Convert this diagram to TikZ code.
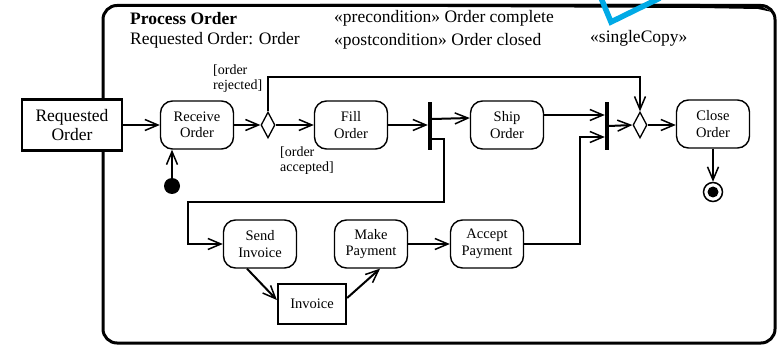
\documentclass[tikz,border=0pt]{standalone}
\usepackage{fontspec}
\setmainfont{Liberation Serif}
\usetikzlibrary{arrows.meta,shapes.geometric}
\tikzset{
  act/.style={draw, line width=1.4pt, rounded corners=12pt, minimum width=73pt,
    minimum height=48pt, align=center, inner sep=1pt, fill=white,
    font=\fontsize{14.5}{16.5}\selectfont},
  objbox/.style={draw, line width=2.2pt, fill=white, align=center, inner sep=1pt},
  bar/.style={fill=black, draw=none, minimum width=4pt, minimum height=48pt, inner sep=0pt},
  choice/.style={draw, diamond, line width=1.3pt, minimum width=14pt, minimum height=26pt,
    inner sep=0pt, fill=white},
  flow/.style={line width=2pt, -{Straight Barb[length=13pt,width=11pt,line width=1.5pt]}},
  edge/.style={line width=2pt},
  guard/.style={align=left, anchor=west, inner sep=0pt, font=\fontsize{14}{15}\selectfont},
  heading/.style={anchor=west, inner sep=0pt, font=\fontsize{17.5}{20}\selectfont}
}
\begin{document}
\begin{tikzpicture}[x=1pt, y=-1pt]
\useasboundingbox (0,0) rectangle (778,347);

% activity frame
\draw[line width=3pt, rounded corners=14pt] (103,5.5) rectangle (775,343);
\fill (320,4) -- (700,4) -- (760,5.5) -- (772,12) -- (758,9) -- (700,8) -- (320,6.5) -- cycle;

% highlight mark at the top edge
\draw[line width=5.5pt, color={rgb,255:red,0;green,170;blue,230}, line join=miter]
  (601,-2) -- (611,22) -- (660,-2);

% headings
\node[heading, font=\fontsize{17.5}{20}\selectfont\bfseries] (title) at (130,19) {Process Order};
\node[heading] (param) at (130,40) {Requested Order: Order};
\node[heading] (pre) at (334,18) {«precondition» Order complete};
\node[heading] (post) at (334,41) {«postcondition» Order closed};
\node[heading] (single) at (590,38) {«singleCopy»};

% parameter node on the frame
\node[objbox, minimum width=100pt, minimum height=51pt, font=\fontsize{17.5}{19.5}\selectfont]
  (req) at (72,125) {Requested\\Order};

% upper flow
\node[act] (ro) at (197,125) {Receive\\Order};
\node[choice] (d1) at (268,125) {};
\node[act] (fo) at (351,125) {Fill\\Order};
\node[bar] (fk) at (430,126) {};
\node[act] (so) at (507,125) {Ship\\Order};
\node[bar] (jn) at (607,126) {};
\node[choice] (d2) at (640,125) {};
\node[act] (co) at (713,124) {Close\\Order};

% initial and final nodes
\node[circle, fill=black, minimum size=16pt, inner sep=0pt] (ini) at (172,186) {};
\node[circle, draw, line width=1.5pt, minimum size=19pt, inner sep=0pt] (fin) at (713,192) {};
\node[circle, fill=black, minimum size=11pt, inner sep=0pt] (fincore) at (713,192) {};

% lower flow
\node[act] (si) at (260,244) {Send\\Invoice};
\node[act] (mp) at (371,244) {Make\\Payment};
\node[act] (ap) at (487,244) {Accept\\Payment};
\node[objbox, minimum width=68pt, minimum height=40pt, font=\fontsize{14.5}{16.5}\selectfont]
  (inv) at (312,304) {Invoice};

% guards
\node[guard] (grej) at (213,79) {[order\\rejected]};
\node[guard] (gacc) at (280,161) {[order\\accepted]};

% control flows
\draw[flow] (req.east) -- (ro.west);
\draw[flow] (ini) -- (ro.south -| ini);
\draw[flow] (ro.east) -- (d1.west);
\draw[flow] (d1.east) -- (fo.west);
\draw[flow] (d1.north) -- (268,77) -| (d2.north);
\draw[flow] (fo.east) -- (fk.west |- fo.east);
\draw[flow] ([yshift=7pt]fk.east) -- ([yshift=7pt]so.west);
\draw[flow] ([yshift=-13pt]fk.east) -- ++(12,0) |- (188,202) |- (si.west);
\draw[flow] ([yshift=10pt]so.east) -- ([yshift=10pt]so.east -| jn.west);
\draw[flow] (ap.east) -| (580,137) -- ([yshift=-11pt]jn.west);
\draw[flow] (jn.east) -- (d2.west);
\draw[flow] (d2.east) -- (d2.east -| co.west);
\draw[flow] (co.south) -- (fin.north);
\draw[flow] ([xshift=-13pt]si.south) -- ([yshift=4pt]inv.west);
\draw[flow] ([yshift=6pt]inv.east) -- ([xshift=9pt]mp.south);
\draw[flow] (mp.east) -- (ap.west);
\end{tikzpicture}
\end{document}
